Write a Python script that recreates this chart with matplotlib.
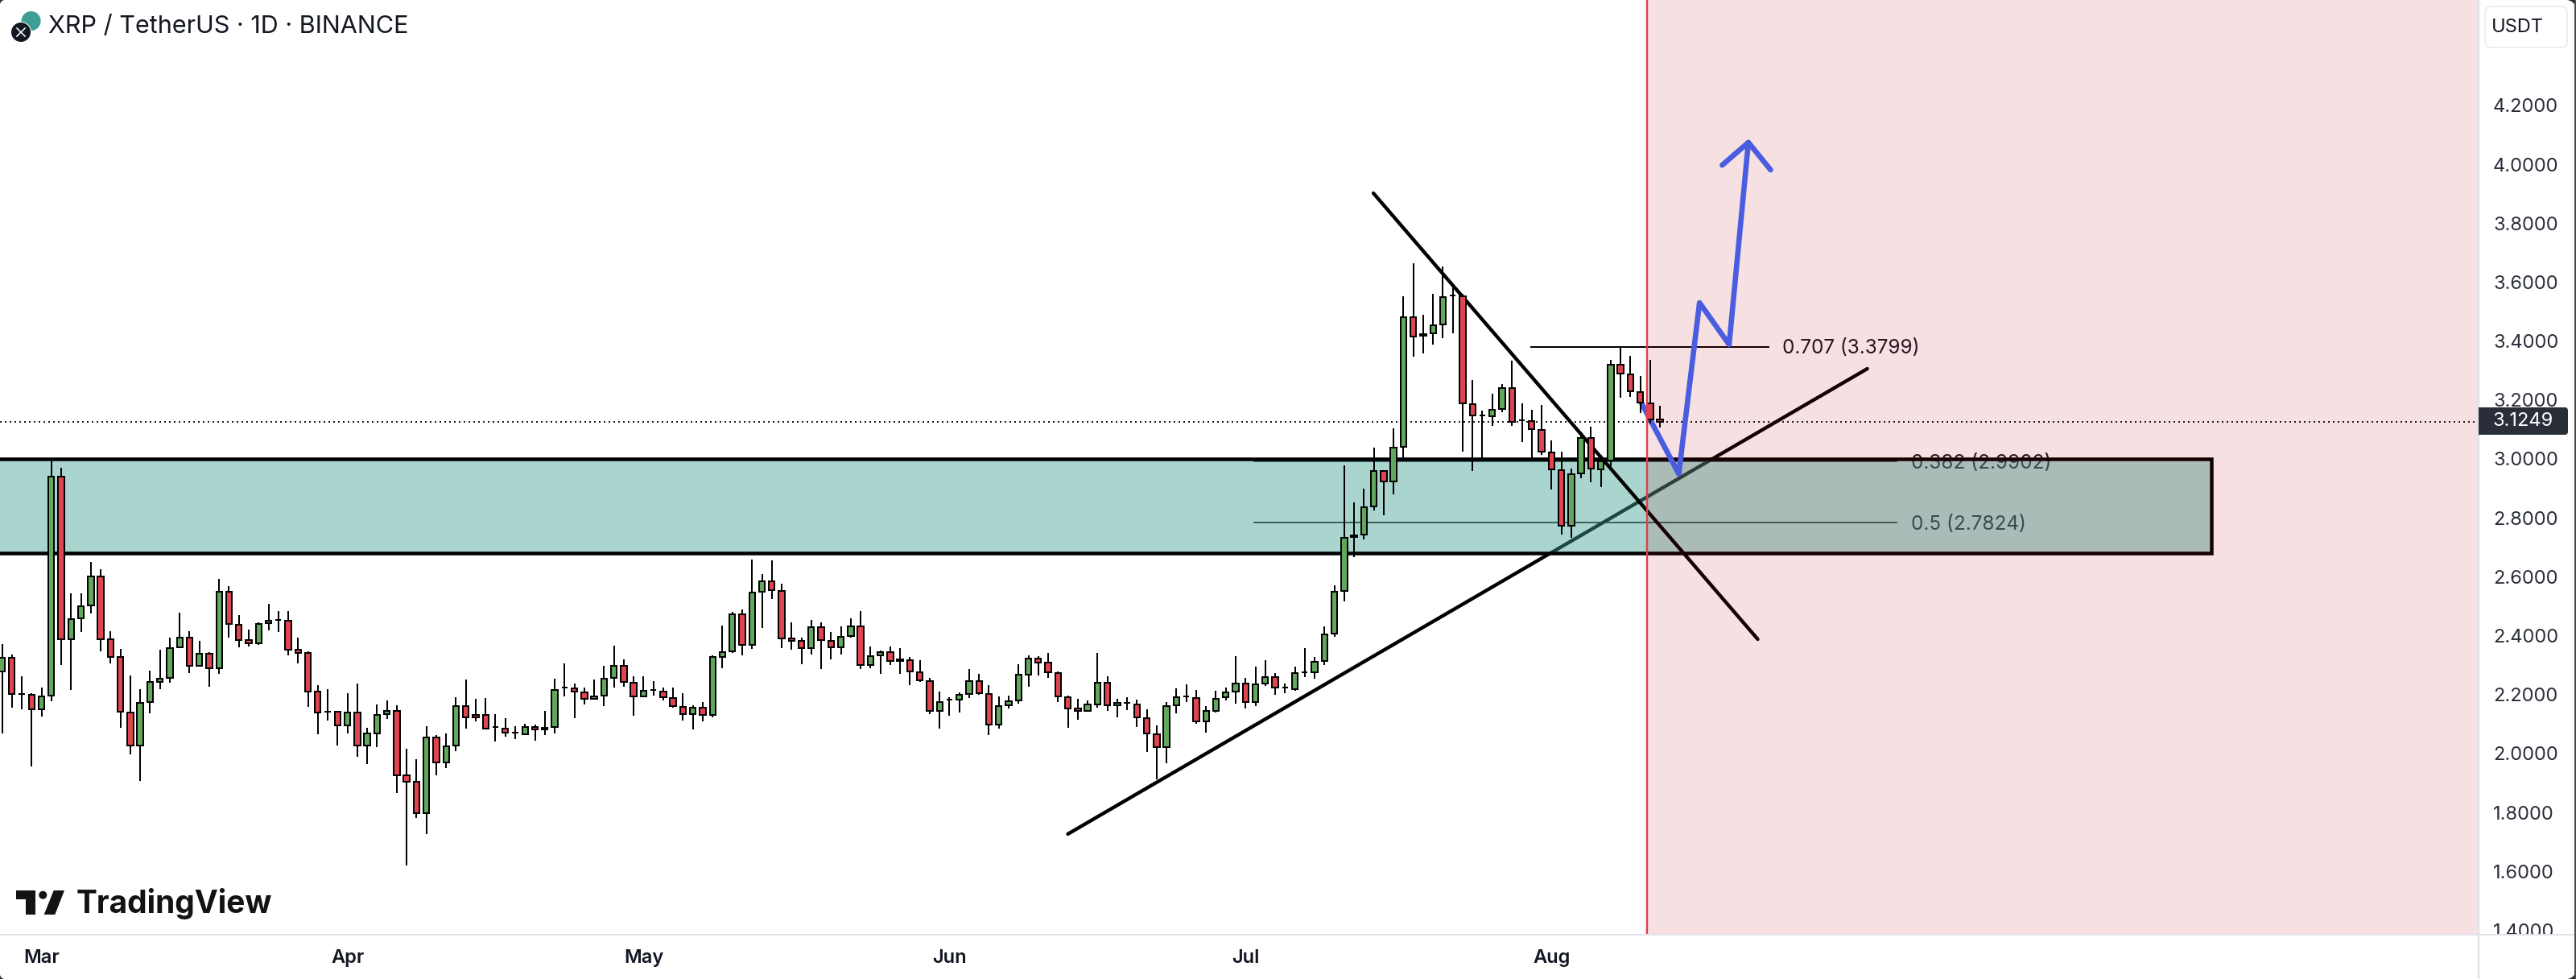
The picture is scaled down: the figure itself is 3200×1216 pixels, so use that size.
import numpy as np
import matplotlib
matplotlib.use("Agg")
import matplotlib.pyplot as plt
from matplotlib.patches import Rectangle, Circle, Polygon, FancyBboxPatch
from matplotlib.transforms import Bbox

# ---------- data ----------
opens = [2.280,2.324,2.202,2.200,2.149,2.196,2.941,2.389,2.458,2.502,2.602,2.388,2.329,2.140,2.026,2.174,2.243,2.256,2.360,2.394,
         2.297,2.340,2.289,2.550,2.438,2.384,2.373,2.442,2.454,2.452,2.352,2.342,2.209,2.143,2.141,2.096,2.140,2.026,2.068,2.133,
         2.146,1.925,1.903,1.799,2.055,1.969,2.026,2.162,2.131,2.130,2.091,2.085,2.072,2.066,2.091,2.088,2.089,2.225,2.222,2.208,
         2.185,2.196,2.256,2.299,2.241,2.193,2.216,2.211,2.189,2.159,2.133,2.156,2.130,2.329,2.346,2.473,2.370,2.548,2.585,2.553,
         2.390,2.383,2.357,2.430,2.383,2.360,2.398,2.432,2.300,2.332,2.345,2.321,2.317,2.277,2.247,2.144,2.183,2.182,2.202,2.247,
         2.203,2.097,2.163,2.179,2.269,2.323,2.309,2.274,2.192,2.152,2.144,2.168,2.241,2.164,2.171,2.167,2.121,2.066,2.022,2.163,
         2.195,2.189,2.108,2.146,2.190,2.209,2.238,2.176,2.237,2.260,2.224,2.219,2.276,2.275,2.313,2.406,2.551,2.740,2.743,2.838,
         2.959,2.923,3.041,3.481,3.423,3.426,3.456,3.555,3.552,3.186,3.147,3.145,3.169,3.240,3.131,3.128,3.098,3.022,2.961,2.773,
         2.950,3.071,2.964,2.994,3.319,3.287,3.227,3.188,3.134]
highs = [2.372,2.336,2.262,2.204,2.224,3.000,2.970,2.544,2.544,2.650,2.626,2.414,2.356,2.265,2.218,2.281,2.353,2.393,2.478,2.415,
         2.383,2.343,2.593,2.568,2.470,2.420,2.444,2.508,2.484,2.484,2.393,2.346,2.232,2.218,2.145,2.205,2.238,2.087,2.166,2.181,
         2.163,2.016,1.981,2.093,2.063,2.069,2.191,2.251,2.186,2.188,2.133,2.120,2.093,2.101,2.099,2.145,2.254,2.306,2.239,2.223,
         2.251,2.298,2.366,2.320,2.262,2.262,2.246,2.224,2.224,2.205,2.164,2.175,2.333,2.434,2.480,2.489,2.658,2.609,2.656,2.576,
         2.445,2.393,2.453,2.445,2.412,2.432,2.459,2.484,2.363,2.350,2.363,2.358,2.328,2.317,2.257,2.210,2.191,2.207,2.287,2.270,
         2.232,2.194,2.196,2.303,2.333,2.330,2.341,2.279,2.196,2.186,2.180,2.341,2.262,2.186,2.191,2.183,2.150,2.095,2.175,2.221,
         2.235,2.216,2.161,2.213,2.224,2.330,2.257,2.295,2.317,2.273,2.237,2.295,2.358,2.328,2.432,2.571,2.978,2.852,2.899,3.038,
         2.959,3.104,3.552,3.664,3.489,3.560,3.653,3.582,3.560,3.268,3.164,3.221,3.254,3.333,3.188,3.166,3.183,3.063,3.024,2.967,
         3.087,3.109,3.013,3.336,3.382,3.350,3.281,3.336,3.180]
lows = [2.069,2.156,2.150,1.957,2.126,2.178,2.301,2.216,2.413,2.475,2.347,2.306,2.087,1.997,1.906,2.136,2.218,2.241,2.360,2.274,
        2.297,2.227,2.271,2.393,2.360,2.363,2.369,2.418,2.413,2.333,2.306,2.159,2.066,2.112,2.027,2.069,1.989,1.964,2.021,2.117,
        1.866,1.619,1.781,1.727,1.926,1.951,2.008,2.085,2.109,2.086,2.041,2.057,2.049,2.066,2.044,2.063,2.069,2.195,2.121,2.166,
        2.185,2.161,2.224,2.227,2.128,2.193,2.196,2.180,2.155,2.112,2.082,2.109,2.123,2.289,2.341,2.333,2.355,2.426,2.524,2.358,
        2.352,2.303,2.336,2.287,2.319,2.336,2.393,2.287,2.289,2.270,2.300,2.270,2.232,2.243,2.134,2.084,2.128,2.139,2.188,2.199,
        2.063,2.084,2.153,2.169,2.227,2.265,2.257,2.175,2.087,2.115,2.144,2.155,2.145,2.123,2.147,2.091,2.006,1.912,1.967,2.136,
        2.175,2.101,2.071,2.139,2.180,2.169,2.153,2.161,2.229,2.199,2.205,2.213,2.259,2.254,2.300,2.396,2.516,2.667,2.726,2.825,
        2.808,2.879,2.992,3.347,3.358,3.388,3.410,3.426,3.024,2.959,2.999,3.112,3.158,3.112,3.057,2.999,3.013,2.896,2.743,2.732,
        2.934,2.920,2.904,2.967,3.207,3.210,3.156,3.120,3.106]
closes = [2.324,2.201,2.202,2.149,2.195,2.941,2.389,2.457,2.500,2.602,2.389,2.329,2.141,2.026,2.173,2.242,2.255,2.358,2.394,2.297,
          2.340,2.289,2.550,2.439,2.385,2.373,2.441,2.452,2.454,2.352,2.342,2.210,2.138,2.143,2.096,2.140,2.026,2.067,2.132,2.146,
          1.925,1.904,1.799,2.055,1.969,2.025,2.162,2.122,2.122,2.086,2.091,2.070,2.072,2.091,2.081,2.081,2.216,2.225,2.210,2.185,
          2.195,2.255,2.299,2.242,2.193,2.214,2.216,2.190,2.160,2.133,2.156,2.130,2.329,2.345,2.473,2.370,2.547,2.585,2.554,2.390,
          2.383,2.357,2.430,2.384,2.360,2.397,2.432,2.300,2.331,2.345,2.314,2.313,2.278,2.248,2.144,2.176,2.183,2.200,2.247,2.204,
          2.097,2.162,2.178,2.268,2.323,2.310,2.275,2.193,2.153,2.144,2.167,2.241,2.164,2.173,2.171,2.122,2.068,2.022,2.162,2.192,
          2.195,2.108,2.145,2.186,2.208,2.238,2.176,2.236,2.260,2.223,2.224,2.274,2.276,2.312,2.405,2.550,2.733,2.735,2.836,2.959,
          2.923,3.038,3.481,3.415,3.418,3.453,3.549,3.555,3.188,3.147,3.147,3.166,3.240,3.125,3.131,3.101,3.024,2.964,2.773,2.948,
          3.071,2.967,2.992,3.319,3.289,3.229,3.191,3.134,3.125]

price_ticks = [1.4,1.6,1.8,2.0,2.2,2.4,2.6,2.8,3.0,3.2,3.4,3.6,3.8,4.0,4.2]
month_pos = [4,35,65,96,126,157]
month_labels = ["Mar","Apr","May","Jun","Jul","Aug"]
last_price = 3.1249

band_top, band_bottom, band_end = 3.0, 2.680, 223.9
now_x = 166.7
up_x, up_y = [108.0,189.0], [1.727,3.306]
down_x, down_y = [138.95,177.9], [3.902,2.388]
blue_x, blue_y = [166.0,169.9,172.0,175.0,176.95], [3.197,2.949,3.530,3.388,4.074]
head_x, head_y = [174.3,176.95,179.2], [3.997,4.074,3.981]
fib_names = ["0.707 (3.3799)","0.382 (2.9902)","0.5 (2.7824)"]
fib_levels = [3.3799,2.9902,2.7824]
fib_line_levels = [3.3799,2.9925,2.7835]
fib_start = [154.9,126.9,126.9]
fib_end = [179.0,192.0,192.0]
fib_text_x = [180.4,193.4,193.4]

# ---------- figure ----------
px = 0.72
FONT = "Inter"
plt.rcParams["font.family"] = [FONT, "DejaVu Sans"]
fig = plt.figure(figsize=(32, 12.16), dpi=100, facecolor="white")
ax = fig.add_axes([0, 55/1216, 3079/3200, 1161/1216])
ax.set_xlim(-0.204, 250.94)
ax.set_ylim(1.3852, 4.5574)
for s in ax.spines.values():
    s.set_visible(False)

x = np.arange(len(opens))
o, h, l, c = map(np.array, (opens, highs, lows, closes))
colors = np.where(c >= o, "#62a85c", "#e0454f")

ax.plot(up_x, up_y, color="black", lw=4.4*px, solid_capstyle="round", zorder=1)
for name, lev, line_lev, a, b, tx in zip(fib_names, fib_levels, fib_line_levels, fib_start, fib_end, fib_text_x):
    ax.plot([a, b], [line_lev, line_lev], color="black", lw=(2 if lev > 3.2 else 1.6)*px, zorder=1)
    ax.text(tx, lev - 0.004, name, fontsize=17.5, color="#131722", va="center", ha="left", zorder=1)
ax.add_patch(Rectangle((-5, band_bottom), band_end+5, band_top-band_bottom, facecolor=(64/255,162/255,147/255), alpha=0.45, lw=0, zorder=2))
ax.add_patch(Rectangle((-5, band_bottom), band_end+5, band_top-band_bottom, fill=False, edgecolor="black", lw=4.5*px, joinstyle="miter", zorder=3))
ax.plot(down_x, down_y, color="black", lw=4.4*px, solid_capstyle="round", zorder=3.5)
ax.add_patch(Rectangle((now_x, 1.3), 260-now_x, 3.4, facecolor=(188/255,5/255,22/255), alpha=0.12, lw=0, zorder=4))
ax.axhline(last_price, color="#1a1a1a", lw=2*px, ls=(0, (1, 2)), dash_capstyle="butt", zorder=4.2)
ax.plot(blue_x, blue_y, color="#4a5cdf", lw=6.6*px, solid_capstyle="round", solid_joinstyle="round", zorder=4.5)
ax.plot(head_x, head_y, color="#4a5cdf", lw=6.6*px, solid_capstyle="round", solid_joinstyle="round", zorder=4.5)
ax.vlines(x, l, h, color="black", lw=2*px, zorder=4.9)
ax.bar(x, np.abs(c-o), bottom=np.minimum(o, c), width=0.6, color=colors, edgecolor="black", linewidth=2*px, zorder=5)
ax.axvline(now_x, color="#e0404a", lw=2.4*px, zorder=6)

ax.yaxis.tick_right()
ax.set_yticks(price_ticks)
ax.set_yticklabels([f"{p:.4f}" for p in price_ticks], fontsize=17, color="#2a2e39")
ax.set_xticks(month_pos)
ax.set_xticklabels(month_labels, fontsize=17, fontweight=600, color="#131722")
ax.tick_params(axis="y", length=0, pad=13)
ax.tick_params(axis="x", length=0, pad=13)
clip = Bbox.from_extents(3079, 55, 3200, 1216)
for t in ax.get_yticklabels():
    t.set_clip_box(clip)
    t.set_clip_on(True)

# ---------- interface decoration in pixel space ----------
ov = fig.add_axes([0, 0, 1, 1], facecolor="none")
ov.set_xlim(0, 3200)
ov.set_ylim(1216, 0)
ov.axis("off")
ov.plot([0, 3200], [1161, 1161], color="#e0e3eb", lw=2*px)
ov.plot([3079, 3079], [0, 1216], color="#e0e3eb", lw=2.5*px)

ov.add_patch(FancyBboxPatch((3079, 506), 111, 34, boxstyle="round,pad=0,rounding_size=4", facecolor="#2a2e39", edgecolor="none", zorder=5))
ov.add_patch(Rectangle((3079, 506), 8, 34, facecolor="#2a2e39", edgecolor="none", zorder=5))
ov.text(3097, 523, f"{last_price:.4f}", color="white", fontsize=17, va="center", ha="left", zorder=6)
ov.add_patch(FancyBboxPatch((3087, 8), 102, 51, boxstyle="round,pad=0,rounding_size=8", facecolor="white", edgecolor="#eceef2", lw=2*px))
ov.text(3095, 34, "USDT", color="#131722", fontsize=17, va="center", ha="left")

ov.text(60, 33, "XRP / TetherUS · 1D · BINANCE", color="#131722", fontsize=22, va="center", ha="left")
ov.add_patch(Circle((38.6, 26), 12, facecolor="#3d9e94", edgecolor="none"))
ov.add_patch(Circle((26, 40), 12.5, facecolor="#131722", edgecolor="white", lw=1*px))
ov.plot([21, 31], [35, 45], color="white", lw=1.6*px)
ov.plot([31, 21], [35, 45], color="white", lw=1.6*px)

ov.add_patch(Polygon([(20,1106),(44.3,1106),(44.3,1136),(31.7,1136),(31.7,1116.7),(20,1116.7)], closed=True, facecolor="#131313", edgecolor="none"))
ov.add_patch(Circle((53.3, 1111.7), 5, facecolor="#131313", edgecolor="none"))
ov.add_patch(Polygon([(80,1106),(68.3,1136),(54.7,1136),(66.7,1106)], closed=True, facecolor="#131313", edgecolor="none"))
ov.text(95, 1122, "TradingView", color="#131313", fontsize=28, fontweight=700, va="center", ha="left")

# screen corners
def corner(cx, cy, sx, sy, r):
    t = np.linspace(0, np.pi/2, 12)
    arc = [(cx + sx*(r - r*np.cos(a)), cy + sy*(r - r*np.sin(a))) for a in t]
    ov.add_patch(Polygon([(cx, cy)] + arc, closed=True, facecolor="#2b2b2b", edgecolor="none", zorder=8))
corner(3200, 0, -1, 1, 12)
corner(3200, 1216, -1, -1, 12)
corner(0, 0, 1, 1, 6)
corner(0, 1216, 1, -1, 6)
ov.add_patch(Rectangle((3198, 0), 2, 1216, facecolor="#4a4a4a", edgecolor="none", zorder=8))

fig.savefig("out.png", dpi=100)
